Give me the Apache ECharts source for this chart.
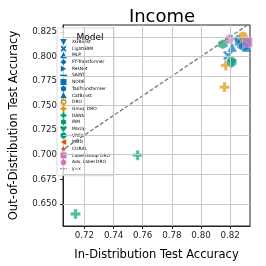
<!DOCTYPE html>
<html><head><meta charset="utf-8">
<script src="https://cdn.jsdelivr.net/npm/echarts@6/dist/echarts.min.js"></script>
<style>html,body{margin:0;padding:0;background:#fff}#c{width:266px;height:266px}</style>
</head><body><div id="c"></div>
<script>
const chartTitle = 'Income';
const xName = 'In-Distribution Test Accuracy';
const yName = 'Out-of-Distribution Test Accuracy';
const xTicks = [0.72, 0.74, 0.76, 0.78, 0.80, 0.82];
const yTicks = [0.650, 0.675, 0.700, 0.725, 0.750, 0.775, 0.800, 0.825];
const models = ['XGBoost','LightGBM','MLP','FT-Transformer','ResNet','SAINT','NODE','TabTransformer','CatBoost','DRO','Group DRO','DANN','IRM','MixUp','VREX','MMD','CORAL','Label Group DRO','Adv. Label DRO'];
const xgboost = [[0.8209, 0.7923]];
const lightgbm = [[0.8185, 0.8010]];
const mlp = [[0.8213, 0.8095]];
const ftTransformer = [[0.8253, 0.8178]];
const resnet = [[0.8266, 0.8151]];
const saint = [[0.8282, 0.8135]];
const nodeM = [[0.8303, 0.8141]];
const tabTransformer = [[0.8292, 0.8101]];
const catboost = [[0.8314, 0.8095]];
const dro = [[0.8288, 0.8202]];
const groupDro = [[0.8170, 0.7909], [0.8161, 0.7688]];
const dann = [[0.7139, 0.6397], [0.7565, 0.6996]];
const irm = [[0.8150, 0.8125]];
const mixup = [];
const vrex = [[0.8211, 0.7944]];
const mmd = [];
const coral = [];
const labelGroupDro = [[0.8319, 0.8145]];
const advLabelDro = [[0.8194, 0.8180]];
const identityLine = [[0.70, 0.70], [0.84, 0.84]];

const BLUE = '#0173b2', ORANGE = '#de8f05', GREEN = '#029e73', RED = '#d55e00', PINK = '#cc78bc';
const S = {
  tri_down: 'path://M0,0L10,0L5,9Z',
  xfill: 'path://M2,0L5,3L8,0L10,2L7,5L10,8L8,10L5,7L2,10L0,8L3,5L0,2Z',
  tri_up: 'path://M5,0L10,9L0,9Z',
  diamond: 'path://M5,0L10,5L5,10L0,5Z',
  tri_right: 'path://M0,0L9,5L0,10Z',
  hline: 'path://M0,4L10,4L10,6L0,6Z',
  square: 'path://M0,0L10,0L10,10L0,10Z',
  hexagon: 'path://M5,0L9.33,2.5L9.33,7.5L5,10L0.67,7.5L0.67,2.5Z',
  circle: 'circle',
  ring: 'path://M5,0A5,5,0,1,1,4.99,0ZM5,2.5A2.5,2.5,0,1,0,5.01,2.5Z',
  pentagon: 'path://M5,0L10,3.8L8.1,10L1.9,10L0,3.8Z',
  plus: 'path://M3.3,0L6.7,0L6.7,3.3L10,3.3L10,6.7L6.7,6.7L6.7,10L3.3,10L3.3,6.7L0,6.7L0,3.3L3.3,3.3Z',
  octagon: 'path://M3,0L7,0L10,3L10,7L7,10L3,10L0,7L0,3Z',
  tri_left: 'path://M10,0L1,5L10,10Z',
  star: 'path://M5,0L6.2,3.6L10,3.6L6.9,5.9L8.1,9.5L5,7.3L1.9,9.5L3.1,5.9L0,3.6L3.8,3.6Z',
  heart: 'path://M5,10L0,4L1.5,1L5,3L8.5,1L10,4Z',
  dash: 'path://M0,4.3L3.5,4.3L3.5,5.7L0,5.7ZM5,4.3L8.5,4.3L8.5,5.7L5,5.7ZM10,4.3L12,4.3L12,5.7L10,5.7Z'
};
const spec = [
  [xgboost, BLUE, S.tri_down], [lightgbm, BLUE, S.xfill], [mlp, BLUE, S.tri_up],
  [ftTransformer, BLUE, S.diamond], [resnet, BLUE, S.tri_right], [saint, BLUE, S.hline],
  [nodeM, BLUE, S.square], [tabTransformer, BLUE, S.hexagon], [catboost, BLUE, S.tri_up],
  [dro, ORANGE, S.ring], [groupDro, ORANGE, S.plus], [dann, GREEN, S.plus],
  [irm, GREEN, S.hexagon], [mixup, GREEN, S.heart], [vrex, GREEN, S.octagon],
  [mmd, RED, S.tri_left], [coral, RED, S.star], [labelGroupDro, PINK, S.square],
  [advLabelDro, PINK, S.pentagon]
];
const series = [{
  name: 'grid', type: 'line', data: [], silent: true, z: 1,
  markLine: {
    silent: true, symbol: 'none', label: { show: false }, animation: false,
    lineStyle: { color: '#c8c8c8', width: 1, type: 'solid' },
    data: xTicks.map(v => ({ xAxis: v })).concat(yTicks.map(v => ({ yAxis: v })))
  }
}];
spec.forEach((s, i) => series.push({
  name: models[i], type: 'scatter', data: s[0], symbol: s[2] === S.ring ? 'circle' : s[2], symbolSize: 10,
  itemStyle: { color: s[1], opacity: 0.7, borderColor: '#fff', borderWidth: 0.5 },
  z: 3
}));
series.push({
  name: 'y=x', type: 'line', data: identityLine, symbol: 'none', silent: true,
  lineStyle: { color: '#7f7f7f', type: [4, 2], width: 1.4 }, z: 4
});
const legendData = models.map((m, i) => ({ name: m, icon: spec[i][2] }));
legendData.push({ name: 'y=x', icon: S.dash, itemStyle: { color: '#7f7f7f' } });
const font = 'DejaVu Sans';
const chart = echarts.init(document.getElementById('c'), null, { renderer: 'canvas' });
chart.setOption({
  animation: false,
  backgroundColor: '#fff',
  title: [
    { text: chartTitle, left: 157, top: 3, textAlign: 'center',
      textStyle: { fontFamily: font, fontSize: 18, fontWeight: 'normal', color: '#000' } },
    { text: 'Model', left: 85, top: 28, textAlign: 'center', z: 10,
      textStyle: { fontFamily: font, fontSize: 9, fontWeight: 'normal', color: '#000' } }
  ],
  grid: { left: 55, right: 16, top: 25, bottom: 38, show: true, borderColor: '#222', borderWidth: 1 },
  legend: {
    orient: 'vertical', left: 57, top: 28,
    padding: [11, 4, 4, 3], itemWidth: 7, itemHeight: 6, itemGap: 0.67, itemTextGap: 4,
    backgroundColor: 'rgba(255,255,255,0.8)', borderColor: '#d0d0d0', borderWidth: 0.8, borderRadius: 2,
    textStyle: { fontFamily: font, fontSize: 4.4, lineHeight: 6, color: '#000' },
    itemStyle: { opacity: 1, borderWidth: 0 },
    data: legendData,
    selectedMode: false
  },
  xAxis: {
    type: 'value', min: 0.7053, max: 0.8336,
    name: xName, nameLocation: 'middle', nameGap: 23,
    nameTextStyle: { fontFamily: font, fontSize: 11.5, color: '#000' },
    axisLine: { show: true, onZero: false, lineStyle: { color: '#222', width: 1 } },
    axisTick: { show: true, customValues: xTicks, length: 3, lineStyle: { color: '#222' } },
    axisLabel: { customValues: xTicks, margin: 5, fontFamily: font, fontSize: 8.7, color: '#222',
      formatter: v => v.toFixed(2) },
    splitLine: { show: false }
  },
  yAxis: {
    type: 'value', min: 0.6275, max: 0.832,
    name: yName, nameLocation: 'middle', nameGap: 43, nameRotate: 90,
    nameTextStyle: { fontFamily: font, fontSize: 11.5, color: '#000' },
    axisLine: { show: true, onZero: false, lineStyle: { color: '#222', width: 1 } },
    axisTick: { show: true, customValues: yTicks, length: 3, lineStyle: { color: '#222' } },
    axisLabel: { customValues: yTicks, margin: 6, fontFamily: font, fontSize: 8.7, color: '#222',
      formatter: v => v.toFixed(3) },
    splitLine: { show: false }
  },
  series: series
});
</script></body></html>
